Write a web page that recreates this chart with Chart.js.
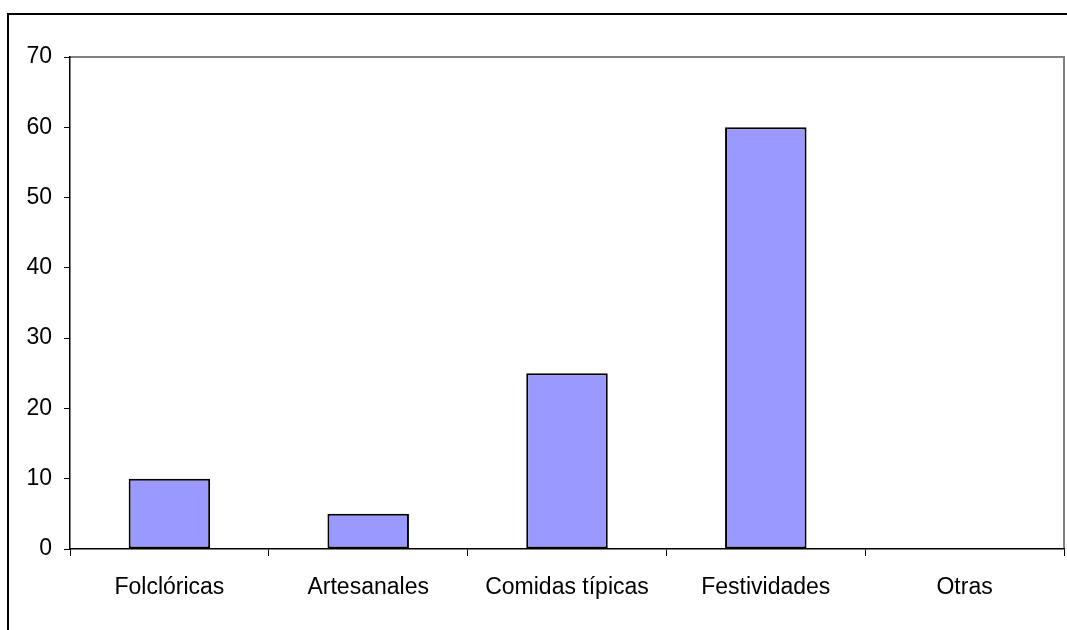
<!DOCTYPE html>
<html>
<head>
<meta charset="utf-8">
<script src="https://cdn.jsdelivr.net/npm/chart.js@4/dist/chart.umd.min.js"></script>
<style>
  html, body { margin:0; padding:0; background:#fff; overflow:hidden; }
  #wrap { position:relative; width:1067px; height:630px; }
</style>
</head>
<body>
<div id="wrap"><canvas id="chart" width="1067" height="630"></canvas></div>
<script>
const categories = ['Folclóricas', 'Artesanales', 'Comidas típicas', 'Festividades', 'Otras'];
const values     = [10, 5, 25, 60, 0];
const yTicks     = [0, 10, 20, 30, 40, 50, 60, 70];

const font = { family:'"Liberation Sans", Arial, sans-serif', size:23 };

// outer frame + gray plot-area box (top/right)
const frame = {
  id:'frame',
  beforeDraw(chart) {
    const c = chart.ctx, a = chart.chartArea;
    c.save();
    c.fillStyle = '#fff';
    c.fillRect(0, 0, chart.width, chart.height);
    c.strokeStyle = '#000';
    c.lineWidth = 2;
    c.strokeRect(8, 14, 2000, 2000);
    c.strokeStyle = '#808080';
    c.lineWidth = 2;
    c.beginPath();
    c.moveTo(a.left, a.top);
    c.lineTo(a.right, a.top);
    c.lineTo(a.right, a.bottom);
    c.stroke();
    c.restore();
  }
};

new Chart(document.getElementById('chart'), {
  type:'bar',
  data:{
    labels: categories,
    datasets:[{
      data: values,
      backgroundColor:'#9999ff',
      borderColor:'#000',
      borderWidth:2,
      borderSkipped:false,
      barPercentage:0.41,
      categoryPercentage:1
    }]
  },
  options:{
    responsive:false,
    animation:false,
    events:[],
    layout:{ padding:{ left:0, top:57, right:3, bottom:0 } },
    plugins:{ legend:{display:false}, tooltip:{enabled:false} },
    scales:{
      x:{
        afterFit: s => { s.height = 81; },
        border:{ color:'#000', width:1.5 },
        grid:{ offset:true, drawOnChartArea:false, color:'#000', tickLength:7, lineWidth:1 },
        ticks:{ color:'#000', font, padding:18, maxRotation:0 }
      },
      y:{
        min:0, max:70,
        afterFit: s => { s.width = 70; },
        afterBuildTicks: s => { s.ticks = yTicks.map(v => ({ value:v })); },
        border:{ color:'#000', width:1.5 },
        grid:{ drawOnChartArea:false, color:'#000', tickLength:6, lineWidth:1 },
        ticks:{ color:'#000', font, padding:12 }
      }
    }
  },
  plugins:[frame]
});
</script>
</body>
</html>
